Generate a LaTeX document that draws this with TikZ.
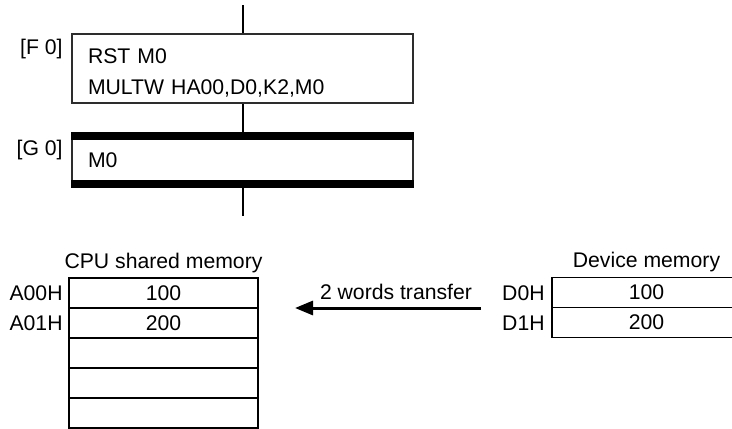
\documentclass[tikz,border=0pt]{standalone}
\usepackage{fontspec}
\setmainfont{Liberation Sans}
\usetikzlibrary{arrows.meta}

\begin{document}
\begin{tikzpicture}[x=0.5pt, y=-0.5pt, font=\fontsize{10.6}{15.5}\selectfont]
  % Definir colores
  \definecolor{bordecolor}{RGB}{45, 45, 45}

  % Configurar estilo de nodos
  \tikzset{
    paso/.style={draw=bordecolor, line width=0.75pt, minimum width=170.5pt, text width=154.5pt, inner xsep=8pt, inner ysep=0pt, align=left},
    celda/.style={draw=black, line width=0.8pt, minimum width=94.5pt, minimum height=15pt, inner sep=0pt},
    etiqueta/.style={inner sep=0pt},
    enlace/.style={line width=1pt},
    flecha/.style={line width=1.5pt, -{Triangle[length=9pt, width=7pt]}}
  }

  % Marco de la figura
  \useasboundingbox (0,0) rectangle (732,428);
  \clip (0,0) rectangle (732,428);

  % Paso F0 y transicion G0
  \node[paso, minimum height=34.5pt] (f0) at (242.5, 68.5) {\rule{0pt}{12.2pt}RST M0\\MULTW HA00,D0,K2,M0};
  \node[paso, minimum height=27pt] (g0) at (242.5, 160) {M0};
  \fill (g0.north west) rectangle ([yshift=-4pt]g0.north east);
  \fill ([yshift=4pt]g0.south west) rectangle (g0.south east);

  % Etiquetas de los pasos
  \node[etiqueta, anchor=base east] (f0tag) at (63, 54) {[F 0]};
  \node[etiqueta, anchor=base east] (g0tag) at (63, 155) {[G 0]};

  % Conexiones verticales
  \coordinate (arriba) at (242.5, 5);
  \coordinate (abajo) at (242.5, 216);
  \draw[enlace] (arriba) -- (f0);
  \draw[enlace] (f0) -- (g0);
  \draw[enlace] (g0) -- (abajo);

  % Memoria compartida de la CPU
  \node[anchor=base] (cputitulo) at (163.5, 268) {CPU shared memory};
  \node[celda] (cpu1) at (163.5, 293) {100};
  \node[celda] (cpu2) at (163.5, 323) {200};
  \node[celda] (cpu3) at (163.5, 353) {};
  \node[celda] (cpu4) at (163.5, 383) {};
  \node[celda] (cpu5) at (163.5, 413) {};
  \node[etiqueta, anchor=base east] (a00) at (63, 300.5) {A00H};
  \node[etiqueta, anchor=base east] (a01) at (63, 330.5) {A01H};

  % Memoria del dispositivo
  \node[anchor=base] (devtitulo) at (646.5, 267) {Device memory};
  \node[celda] (dev1) at (646.5, 292.5) {100};
  \node[celda] (dev2) at (646.5, 322.5) {200};
  \node[etiqueta, anchor=base east] (d0) at (545, 300) {D0H};
  \node[etiqueta, anchor=base east] (d1) at (545, 330) {D1H};

  % Transferencia de 2 palabras
  \coordinate (origen) at (481, 308);
  \coordinate (destino) at (295, 308);
  \draw[flecha] (origen) -- (destino);
  \node[anchor=base] (xfer) at (396, 299) {2 words transfer};
\end{tikzpicture}
\end{document}
